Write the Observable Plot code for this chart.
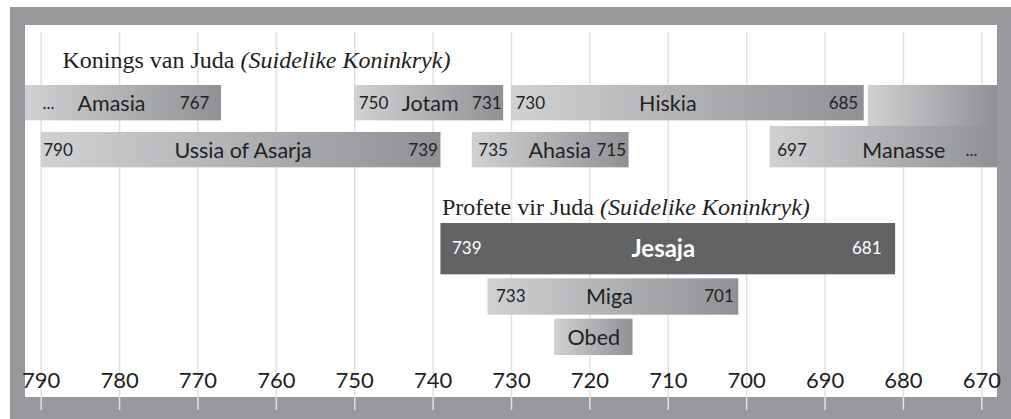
<!DOCTYPE html>
<html><head><meta charset="utf-8">
<script src="https://cdn.jsdelivr.net/npm/d3@7"></script>
<script src="https://cdn.jsdelivr.net/npm/@observablehq/plot@0.6"></script>
<style>
html,body{margin:0;padding:0;background:#fff;}
#wrap{position:relative;width:1011px;height:419px;overflow:hidden;}
#outer{position:absolute;left:10px;top:7px;right:0;bottom:0;background:#98999c;}
#inner{position:absolute;left:25px;top:25px;width:972px;height:372px;background:#fff;}
#chart{position:absolute;left:0;top:0;}
</style></head><body>
<div id="wrap"><div id="outer"></div><div id="inner"></div><div id="chart"></div></div>
<script>
// ---- data ----
const kingNames       = ["Amasia", "Ussia of Asarja", "Jotam", "Hiskia", "Ahasia", "Manasse"];
const kingStart       = [796, 790, 750, 730, 735, 697];
const kingEnd         = [767, 739, 731, 685, 715, 642];
const kingRow         = ["k1", "k2", "k1", "k1", "k2", "k2"];
const kingStartLabel  = ["...", "790", "750", "730", "735", "697"];
const kingEndLabel    = ["767", "739", "731", "685", "715", "..."];
// Manasse's sole reign continues on the upper row after Hiskia
const soleName = ["Manasse"], soleStart = [685], soleEnd = [642], soleRow = ["k1"];

const prophetNames      = ["Jesaja", "Miga", "Obed"];
const prophetStart      = [739, 733, 724.5];
const prophetEnd        = [681, 701, 714.5];
const prophetRow        = ["p1", "p2", "p3"];
const prophetStartLabel = ["739", "733", ""];
const prophetEndLabel   = ["681", "701", ""];

const lanes = ["k1", "k2", "gap", "p1", "p2", "p3"];
const tickYears = [790, 780, 770, 760, 750, 740, 730, 720, 710, 700, 690, 680, 670];
const titleKings = "Konings van Juda (Suidelike Koninkryk)";
const titleProphets = "Profete vir Juda (Suidelike Koninkryk)";

// ---- build ----
const VIS = [792, 668];
const clampYear = v => Math.max(VIS[1], Math.min(VIS[0], v));
const kings = kingNames.map((n, i) => ({name: n, start: kingStart[i], end: kingEnd[i], row: kingRow[i], sl: kingStartLabel[i], el: kingEndLabel[i]}));
const sole = soleName.map((n, i) => ({name: n, start: soleStart[i], end: soleEnd[i], row: soleRow[i]}));
const prophets = prophetNames.map((n, i) => ({name: n, start: prophetStart[i], end: prophetEnd[i], row: prophetRow[i], sl: prophetStartLabel[i], el: prophetEndLabel[i]}));

// label nudges in px: [startDx, endDx, nameDx]
const nudge = {
  "Amasia": [17, -12, -12], "Ussia of Asarja": [2, -3, 2], "Jotam": [4, -2, 1],
  "Hiskia": [4, -6, -20], "Ahasia": [6, -3, 9], "Manasse": [7, -20, 20],
  "Jesaja": [11, -14, -5], "Miga": [8, -5, -4], "Obed": [0, 0, 0]
};
const ink = "#222222";

function labels(d, {dy, color, nameSize, nameWeight}) {
  const [sdx, edx, ndx] = nudge[d.name];
  const s = clampYear(d.start), e = clampYear(d.end);
  const out = [];
  if (d.sl) out.push(Plot.text([d], {x: () => s, y: "row", text: "sl", textAnchor: "start", dx: sdx, dy, fontSize: 17, fill: color}));
  if (d.el) out.push(Plot.text([d], {x: () => e, y: "row", text: "el", textAnchor: "end", dx: edx, dy, fontSize: 17, fill: color}));
  out.push(Plot.text([d], {x: () => (s + e) / 2, y: "row", text: "name", dx: ndx, dy, fontSize: nameSize, fontWeight: nameWeight, fill: color}));
  return out;
}

const grad = "url(#barGrad)";
const chart = Plot.plot({
  width: 1011, height: 419,
  marginLeft: 25, marginRight: 14, marginTop: 25, marginBottom: 9,
  x: {domain: VIS, axis: null},
  y: {type: "band", domain: lanes, range: [77, 363], padding: 0, axis: null},
  style: {background: "transparent", fontFamily: "Lato, sans-serif", color: ink, overflow: "visible"},
  marks: [
    Plot.ruleX(tickYears, {x: d => d, stroke: "#e1e1e1", strokeWidth: 1.5, insetTop: 7}),
    Plot.text(tickYears, {x: d => d, text: d => String(d), frameAnchor: "bottom", lineAnchor: "middle", dy: -30, fontSize: 22, fill: "#1e1e1e"}),
    Plot.text([titleKings], {text: d => d, frameAnchor: "top-left", lineAnchor: "top", dx: 37, dy: 25, fontSize: 24, fontFamily: "Liberation Serif, serif", fill: "#1e1e1e"}),
    Plot.text([titleProphets], {x: () => prophetStart[0], y: () => "p1", text: d => d, textAnchor: "start", dx: 1, dy: -37, fontSize: 24, fontFamily: "Liberation Serif, serif", fill: "#1e1e1e"}),
    Plot.barX(kings.filter(d => d.name !== "Manasse"), {x1: d => clampYear(d.start), x2: d => clampYear(d.end), y: "row", fill: grad, insetTop: 6, insetBottom: 5.67}),
    Plot.barX(kings.filter(d => d.name === "Manasse"), {x1: d => clampYear(d.start), x2: d => clampYear(d.end), y: "row", fill: grad, insetTop: 0, insetBottom: 5.67}),
    Plot.barX(sole, {x1: d => clampYear(d.start), x2: d => clampYear(d.end), y: "row", fill: grad, insetTop: 6, insetBottom: 0, insetLeft: 4}),
    Plot.barX([prophets[0]], {x1: "start", x2: "end", y: "row", fill: "#636366", insetTop: 3, insetBottom: -7.33}),
    Plot.barX([prophets[1]], {x1: "start", x2: "end", y: "row", fill: grad, insetTop: 11.33, insetBottom: -0.67}),
    Plot.barX([prophets[2]], {x1: "start", x2: "end", y: "row", fill: grad, insetTop: 4.67, insetBottom: 6}),
    ...kings.flatMap(d => labels(d, {dy: 1, color: ink, nameSize: 21.5})),
    ...labels(prophets[0], {dy: 5, color: "#ffffff", nameSize: 24, nameWeight: "bold"}),
    ...labels(prophets[1], {dy: 6, color: ink, nameSize: 21.5}),
    ...labels(prophets[2], {dy: 0, color: ink, nameSize: 21.5})
  ]
});

d3.select(chart).insert("defs", ":first-child").html(
  '<linearGradient id="barGrad" x1="0" x2="1" y1="0" y2="0">' +
  '<stop offset="0" stop-color="#d0d1d3"/><stop offset="1" stop-color="#909194"/></linearGradient>');

d3.select(chart).selectAll("text").each(function() {
  const t = this.textContent;
  const i = t.indexOf("(");
  if (i > 0 && t.includes("Suidelike")) {
    const el = d3.select(this);
    el.text(null);
    el.append("tspan").text(t.slice(0, i));
    el.append("tspan").attr("font-style", "italic").text(t.slice(i));
  }
});

document.getElementById("chart").appendChild(chart);
</script>
</body></html>
